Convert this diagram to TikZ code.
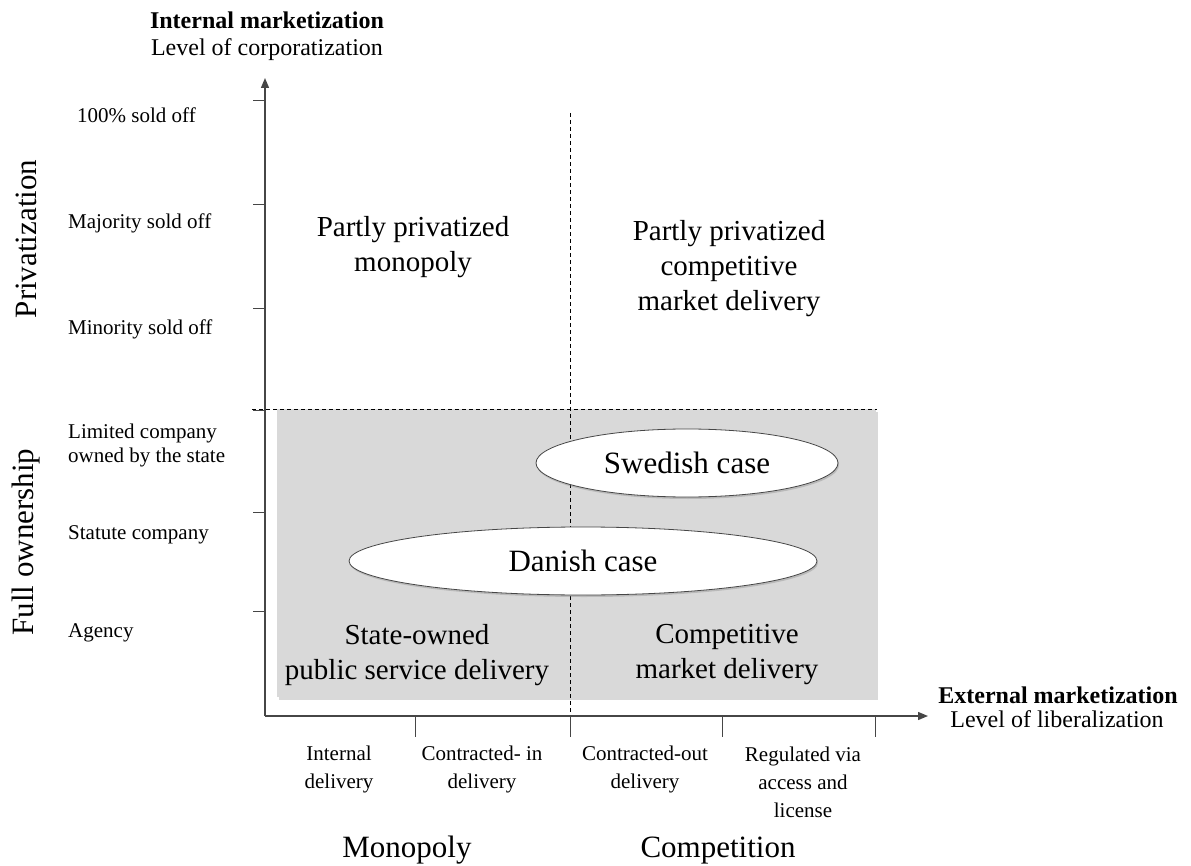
\documentclass[tikz,border=0pt]{standalone}
\usepackage{fontspec}
\setmainfont{Liberation Serif}
\usepackage{tikz}
\usetikzlibrary{arrows.meta,shapes.geometric,shadows}
\definecolor{boxgray}{RGB}{217,217,217}
\definecolor{axisgray}{RGB}{70,70,70}
\tikzset{
  axis/.style={line width=1.4pt, color=axisgray, -{Triangle[length=10pt,width=8pt]}},
  tickmark/.style={line width=1pt, color=axisgray},
  divider/.style={line width=0.8pt, dash pattern=on 4pt off 3pt},
  ticklabel/.style={font=\fontsize{21}{24}\selectfont, anchor=west, inner sep=0pt, align=left},
  xlabel/.style={font=\fontsize{21}{28}\selectfont, align=center, inner sep=0pt},
  titlelabel/.style={font=\fontsize{24}{30}\selectfont, inner sep=0pt},
  sidelabel/.style={font=\fontsize{31}{36}\selectfont, rotate=90, inner sep=0pt},
  biglabel/.style={font=\fontsize{29}{35}\selectfont, align=center, inner sep=0pt},
  sidename/.style={font=\fontsize{31}{36}\selectfont, anchor=base, inner sep=0pt},
  casebox/.style={ellipse, draw=axisgray, line width=0.8pt, fill=white, inner sep=0pt,
    minimum height=68pt, font=\fontsize{31}{36}\selectfont,
    drop shadow={shadow xshift=1pt, shadow yshift=-2pt, opacity=0.35}}
}
\begin{document}
\begin{tikzpicture}[x=1pt,y=-1pt]
    \useasboundingbox (0,0) rectangle (1191,866);

    \fill[boxgray, drop shadow={shadow xshift=2pt, shadow yshift=-3pt, opacity=0.3}]
        (277,409) rectangle (876,697);

    \coordinate (O) at (265,716);
    \coordinate (xend) at (928,716);
    \coordinate (yend) at (265,78);
    \coordinate (vtop) at (570,113);
    \coordinate (vbot) at (570,716);
    \coordinate (hleft) at (252,409);
    \coordinate (hright) at (877,409);
    \draw[divider] (vtop) -- (vbot);
    \draw[divider] (hleft) -- (hright);

    \node[casebox, minimum width=302pt] (swe) at (687,463) {Swedish case};
    \node[casebox, minimum width=468pt] (dan) at (583,561) {Danish case};

    \draw[axis] (O) -- (yend);
    \draw[axis] (O) -- (xend);
    \foreach \y in {101,205,309,410,512,611}
        \draw[tickmark] (253,\y) -- (265,\y);
    \foreach \x in {415,570,722,875}
        \draw[tickmark] (\x,716) -- (\x,737);

    \node[titlelabel] (ytitle) at (267,20) {\bfseries Internal marketization};
    \node[titlelabel] (ysub) at (267,50) {Level of corporatization};
    \node[titlelabel] (xtitle) at (1058,695) {\bfseries External marketization};
    \node[titlelabel] (xsub) at (1057,719) {Level of liberalization};

    \node[ticklabel] (l100) at (77,115) {100\% sold off};
    \node[ticklabel] (lmaj) at (68,223) {Majority sold off};
    \node[ticklabel] (lmin) at (68,329) {Minority sold off};
    \node[ticklabel] (lltd) at (68,445) {Limited company\\owned by the state};
    \node[ticklabel] (lstat) at (68,535) {Statute company};
    \node[ticklabel] (lagen) at (68,633) {Agency};

    \node[sidelabel] (priv) at (26,239) {Privatization};
    \node[sidelabel] (full) at (26,542) {Full ownership};

    \node[xlabel] (bint) at (339,769) {Internal\\delivery};
    \node[xlabel] (bin) at (482,769) {Contracted- in\\delivery};
    \node[xlabel] (bout) at (645,769) {Contracted-out\\delivery};
    \node[xlabel] (breg) at (803,782) {Regulated via\\access and\\license};
    \node[sidename] (mono) at (407,857) {Monopoly};
    \node[sidename] (comp) at (718,857) {Competition};

    \node[biglabel] (ppm) at (413,247) {Partly privatized\\monopoly};
    \node[biglabel] (ppc) at (729,269) {Partly privatized\\competitive\\market delivery};
    \node[biglabel] (sop) at (417,655) {State-owned\\public service delivery};
    \node[biglabel] (cmd) at (727,655) {Competitive\\market delivery};
\end{tikzpicture}
\end{document}
